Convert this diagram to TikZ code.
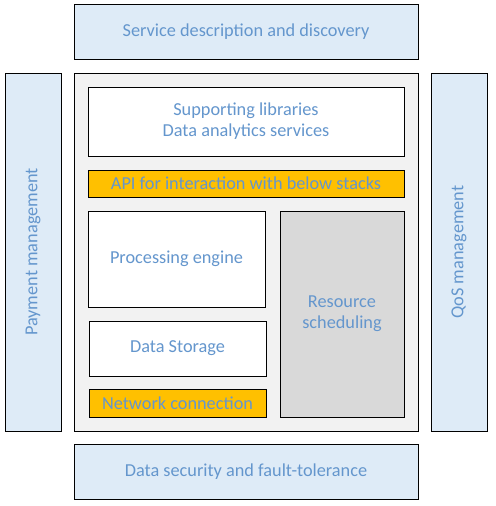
\documentclass[tikz,border=0pt]{standalone}
\usepackage{fontspec}
\setmainfont{Carlito}
\usepackage{tikz}
\definecolor{labeltext}{RGB}{100,150,205}
\definecolor{layerfill}{RGB}{222,235,247}
\definecolor{stackfill}{RGB}{242,242,242}
\definecolor{linkfill}{RGB}{255,192,0}
\definecolor{schedfill}{RGB}{217,217,217}
\tikzstyle{every path}=[line width=0.8pt]
\tikzstyle{box}=[draw=black, rectangle, inner sep=0pt, align=center, text=labeltext, font=\fontsize{15.6}{18}\selectfont]
\tikzstyle{layer}=[box, fill=layerfill]
\tikzstyle{part}=[box, fill=white]
\tikzstyle{link}=[box, fill=linkfill]

\begin{document}
\begin{tikzpicture}[x=0.03cm, y=-0.03cm]
    \useasboundingbox (0,0) rectangle (495,506);
    \node[layer, minimum width=10.32cm, minimum height=1.65cm] (discovery) at (246,31.5) {Service description and discovery};
    \node[box, fill=stackfill, minimum width=10.32cm, minimum height=10.74cm] (stack) at (246,252) {};
    \node[layer, minimum width=1.68cm, minimum height=10.74cm] (payment) at (33,252) {\rotatebox{90}{Payment management}};
    \node[layer, minimum width=1.68cm, minimum height=10.74cm] (qos) at (459,252) {\rotatebox{90}{QoS management}};
    \node[layer, minimum width=10.32cm, minimum height=1.65cm] (security) at (246,471.5) {Data security and fault-tolerance};
    \node[part, minimum width=9.48cm, minimum height=2.07cm] (libs) at (246,121.5) {Supporting libraries\\Data analytics services};
    \node[link, minimum width=9.48cm, minimum height=0.81cm] (api) at (246,183.5) {API for interaction with below stacks};
    \node[part, minimum width=5.31cm, minimum height=2.88cm] (engine) at (176.5,259) {Processing engine};
    \node[part, minimum width=5.31cm, minimum height=1.65cm] (storage) at (177.5,348.5) {Data Storage};
    \node[link, minimum width=5.31cm, minimum height=0.84cm] (network) at (177.5,403) {Network connection};
    \node[box, fill=schedfill, minimum width=3.72cm, minimum height=6.18cm] (sched) at (342,314) {Resource\\scheduling};
\end{tikzpicture}
\end{document}
